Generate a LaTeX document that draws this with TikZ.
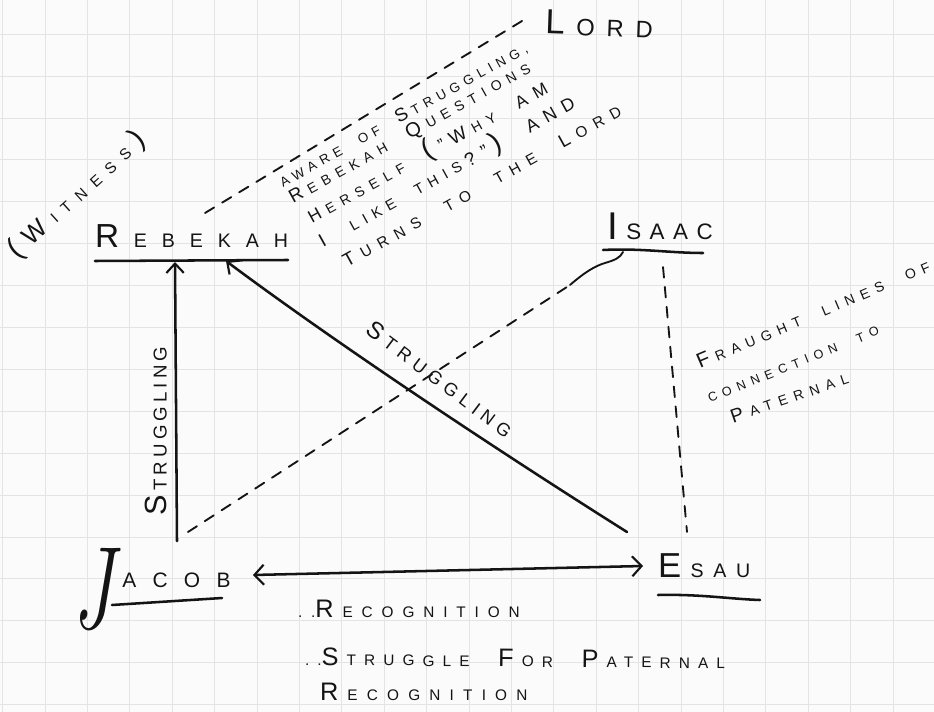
\documentclass[tikz,border=0pt]{standalone}
\usepackage{fontspec}
\setmainfont{Liberation Sans}
\newfontfamily\lmfam{Latin Modern Roman}
\usetikzlibrary{arrows.meta}
\definecolor{paper}{HTML}{FBFBFB}
\definecolor{gridc}{HTML}{E4E4E4}
\definecolor{ink}{HTML}{141414}
\newcommand\lsv{0}
\newcommand\hb[2]{{\fontsize{#1}{#1}\selectfont #2}\hspace{\fpeval{\lsv/100}em}}
\newcommand\hbb[2]{\hspace{\fpeval{\lsv/100}em}{\fontsize{#1}{#1}\selectfont #2}\hspace{\fpeval{\lsv/100}em}}
\newcommand\ws{\hspace{\fpeval{\lsv/100}em}\ \hspace{\fpeval{\lsv/100}em}}
\begin{document}
\begin{tikzpicture}[x=0.75pt,y=-0.75pt]
\tikzset{
 lbl/.style 2 args={inner sep=0pt, outer sep=0pt, text=ink, font=\fontsize{#1}{#1}\selectfont\addfontfeature{LetterSpace=#2}\def\lsv{#2}},
 pen/.style={draw=ink, line width=1.9pt, line cap=round, line join=round},
 thinpen/.style={draw=ink, line width=1.4pt, line cap=round},
 dsh/.style={thinpen, dash pattern=on 8pt off 7pt},
 tip/.style={-{Straight Barb[length=7pt,width=13pt,line width=1.6pt]}},
 ann/.style={anchor=base west, rotate=29},
 fra/.style={anchor=base west},
}
\useasboundingbox (0,0) rectangle (934,712);
\fill[paper] (0,0) rectangle (934,712);
\begin{scope}
\clip (0,0) rectangle (934,712);
\foreach \i in {0,...,22} \draw[gridc, line width=0.7pt] ({2.6+42.4*\i},0) -- ({2.6+42.4*\i},712);
\foreach \j in {0,...,17} \draw[gridc, line width=0.7pt] (0,{-7.7+41.9*\j}) -- (934,{-7.7+41.9*\j});
\end{scope}

% ---- names ----
\node[lbl={14.7}{76}, anchor=base west] (rebekah) at (95,248) {\hb{25}{R}EBEKAH};
\node[lbl={16.8}{38}, anchor=base west] (isaac) at (607,240) {\hb{29}{I}SAAC};
\node[lbl={15.7}{78}, anchor=base west] (jacob) at (72,587) {\raisebox{-31pt}{\scalebox{0.68}[1]{\lmfam\fontsize{88}{88}\selectfont\itshape J}}\hspace{7pt}ACOB};
\node[lbl={14.7}{49}, anchor=base west] (esau) at (658,577) {\hb{26}{E}SAU};
\node[lbl={17.8}{50}, anchor=base west, rotate=-2] (lord) at (545,34) {\hb{26}{L}ORD};
\node[lbl={11.5}{62}, rotate=42] (witness) at (77,195) {\hb{22}{(}\hb{19}{W}ITNESS\hbb{22}{)}};

% ---- underlines ----
\coordinate (rebUL) at (95,261); \coordinate (rebUR) at (288,260);
\coordinate (isaUL) at (603,250); \coordinate (isaUR) at (703,253);
\coordinate (jacUL) at (112,605); \coordinate (jacUR) at (222,598);
\coordinate (esaUL) at (658,595); \coordinate (esaUR) at (760,600);
\draw[pen] (rebUL) -- (rebUR);
\draw[pen] (isaUL) .. controls (640,248) and (670,253) .. (isaUR);
\draw[pen] (jacUL) -- (jacUR);
\draw[pen] (esaUL) .. controls (700,594) and (730,599) .. (esaUR);

% ---- connector end points ----
\coordinate (rebA) at (175,262);
\coordinate (jacA) at (177,541);
\coordinate (rebB) at (226,261);
\coordinate (esaB) at (627,532);
\coordinate (rebC) at (205,213);
\coordinate (lordC) at (527,18);
\coordinate (jacD) at (188,532);
\coordinate (midD) at (570,285);
\coordinate (isaD) at (623,252);
\coordinate (isaE) at (663,267);
\coordinate (esaE) at (687,532);
\coordinate (jacF) at (253,575);
\coordinate (esaF) at (643,566);

% ---- connectors ----
\draw[pen, tip] (jacA) -- (rebA);
\draw[pen, tip] (esaB) .. controls (500,452) and (340,346) .. (rebB);
\draw[dsh] (rebC) -- (lordC);
\draw[dsh] (jacD) -- (midD);
\draw[thinpen] (midD) .. controls (585,272) and (595,266) .. (605,263) .. controls (615,260) and (620,258) .. (isaD);
\draw[dsh] (isaE) -- (esaE);
\draw[pen, {Straight Barb[length=7pt,width=15pt,line width=1.6pt]}-{Straight Barb[length=7pt,width=15pt,line width=1.6pt]}] (jacF) -- (esaF);

% ---- connector labels ----
\node[lbl={14}{22}, rotate=90] (strug1) at (156,431) {\hb{23}{S}TRUGGLING};
\node[lbl={13.6}{32}, rotate=-37] (strug2) at (440,379) {\hb{18}{S}TRUGGLING};

% ---- annotation near Rebekah ----
\node[ann, lbl={10}{40}] (a1) at (283,188) {AWARE\ws OF\ws \hb{14}{S}TRUGGLING,};
\node[ann, lbl={10.5}{47}] (a2) at (293,204) {\hb{14}{R}EBEKAH\ws \hb{15}{Q}UESTIONS};
\node[ann, lbl={10.5}{49}] (a3) at (312,224) {\hb{13}{H}ERSELF\ws \hb{21}{(}\hb{13}{"}\hb{14}{W}HY\ws \hb{13}{AM}};
\node[ann, lbl={11}{43}] (a4) at (323,248) {\hb{14}{I}\ws LIKE\ws THIS\hbb{14}{?"}\hb{21}{)}\ws \hb{13.5}{AND}};
\node[ann, lbl={11.5}{52}] (a5) at (347,268) {\hb{14}{T}URNS\ws TO\ws THE\ws \hb{14}{L}ORD};

% ---- fraught ----
\node[fra, lbl={10.5}{47}, rotate=23] (f1) at (700,369) {\hb{15.5}{F}RAUGHT\ws LINES\ws OF};
\node[fra, lbl={9.5}{47}, rotate=22] (f2) at (710,403) {CONNECTION\ws TO};
\node[fra, lbl={10.5}{48}, rotate=19] (f3) at (733,423) {\hb{14.5}{P}ATERNAL};

% ---- bottom ----
\node[lbl={11.5}{58}, anchor=base west] (b1) at (298,617) {..\hb{19}{R}ECOGNITION};
\node[lbl={11.5}{53}, anchor=base west, rotate=-0.5] (b2) at (305,665) {..\hb{19}{S}TRUGGLE\ws \hb{19}{F}OR\ws \hb{19}{P}ATERNAL};
\node[lbl={11.5}{60}, anchor=base west] (b3) at (320,700) {\hb{19}{R}ECOGNITION};
\end{tikzpicture}
\end{document}
